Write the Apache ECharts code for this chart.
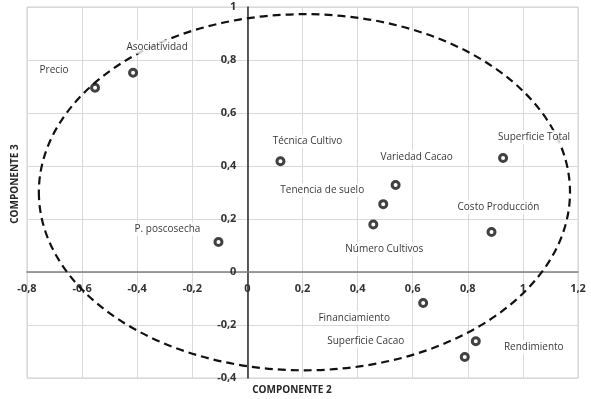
<!DOCTYPE html>
<html><head><meta charset="utf-8">
<script src="https://cdn.jsdelivr.net/npm/echarts@6/dist/echarts.min.js"></script>
<style>html,body{margin:0;padding:0;background:#fff}#c{width:591px;height:399px}</style>
</head><body><div id="c"></div>
<script>
const variables = ['Precio','Asociatividad','Técnica Cultivo','P. poscosecha','Variedad Cacao','Tenencia de suelo','Número Cultivos','Superficie Total','Costo Producción','Financiamiento','Superficie Cacao','Rendimiento'];
const comp2 = [-0.553,-0.415,0.12,-0.105,0.538,0.493,0.457,0.928,0.886,0.638,0.829,0.789];
const comp3 = [0.695,0.752,0.418,0.113,0.328,0.256,0.179,0.43,0.151,-0.117,-0.261,-0.321];
const ellipseParams = [0.207, 0.301, 0.964, 0.672]; // centre x, centre y, radius x, radius y
const xRange = [-0.8, 1.2];
const yRange = [-0.4, 1];
const tickStep = 0.2;
// label offsets (pixels) relative to each point
const labelOffsets = [[-41,-18],[24,-26],[27,-20],[-51,-13],[21,-28],[-61,-14],[11,25],[31,-21],[7,-25],[-69,15],[-110,0],[69,-10]];

const fmt = v => String(+v.toFixed(1)).replace('.', ',');
const font = '"Open Sans", Lato, sans-serif';
const GRID = { left: 27, right: 13, top: 7, bottom: 21 };
const W = 591, H = 399;

const points = variables.map((n, i) => ({
  name: n,
  value: [comp2[i], comp3[i]],
  label: { offset: labelOffsets[i] }
}));

const chart = echarts.init(document.getElementById('c'), null, {renderer: 'canvas'});
const tickLabel = { formatter: fmt, color: '#333', fontSize: 11, fontWeight: 'bold', fontFamily: font };
chart.setOption({
  animation: false,
  backgroundColor: '#fff',
  grid: Object.assign({ show: true, borderColor: '#d0d0d0', borderWidth: 1, containLabel: false, outerBoundsMode: 'none' }, GRID),
  xAxis: {
    type: 'value', min: xRange[0], max: xRange[1], interval: tickStep,
    axisLine: { onZero: false, lineStyle: { color: '#808080', width: 1.5 } },
    axisTick: { show: false },
    axisLabel: Object.assign({ margin: 11 }, tickLabel),
    splitLine: { show: true, lineStyle: { color: '#d9d9d9', width: 1 } }
  },
  yAxis: {
    type: 'value', min: yRange[0], max: yRange[1], interval: tickStep,
    axisLine: { onZero: false, lineStyle: { color: '#262626', width: 1.5 } },
    axisTick: { show: false },
    axisLabel: Object.assign({ margin: 11 }, tickLabel),
    splitLine: { show: true, lineStyle: { color: '#d9d9d9', width: 1 } }
  },
  graphic: [
    { type: 'text', x: 292, y: 390, style: { text: 'COMPONENTE 2', font: 'bold 10px ' + font, fill: '#262626', align: 'center', verticalAlign: 'middle' } },
    { type: 'text', x: 15, y: 184, rotation: Math.PI / 2,
      style: { text: 'COMPONENTE 3', font: 'bold 10px ' + font, fill: '#262626', align: 'center', verticalAlign: 'middle' } }
  ],
  series: [
    {
      type: 'custom', z: 1, silent: true, clip: false,
      data: [ellipseParams],
      encode: { x: 0, y: 1 },
      renderItem: (params, api) => {
        const c = api.coord([api.value(0), api.value(1)]);
        const e = api.coord([api.value(0) + api.value(2), api.value(1) + api.value(3)]);
        const rx = e[0] - c[0], ry = c[1] - e[1];
        return {
          type: 'path',
          shape: {
            pathData: `M${c[0]-rx} ${c[1]} A${rx} ${ry} 0 1 0 ${c[0]+rx} ${c[1]} A${rx} ${ry} 0 1 0 ${c[0]-rx} ${c[1]} Z`,
            x: c[0] - rx, y: c[1] - ry, width: 2 * rx, height: 2 * ry
          },
          style: { fill: null, stroke: '#111', lineWidth: 2.2, lineDash: [8, 5] }
        };
      }
    },
    {
      type: 'scatter', z: 3,
      data: points,
      symbol: 'circle', symbolSize: 7,
      itemStyle: { color: '#fff', borderColor: '#111', borderWidth: 3 },
      label: {
        show: true, position: 'inside', formatter: '{b}',
        fontFamily: font, fontSize: 10, color: '#000',
        backgroundColor: '#fff', padding: [2, 3]
      }
    }
  ]
});
// move both axes (lines and labels) onto the zero lines
const zero = chart.convertToPixel({ gridIndex: 0 }, [0, 0]);
chart.setOption({
  xAxis: { offset: -((H - GRID.bottom) - zero[1]) },
  yAxis: { offset: -(zero[0] - GRID.left) }
});
</script></body></html>
